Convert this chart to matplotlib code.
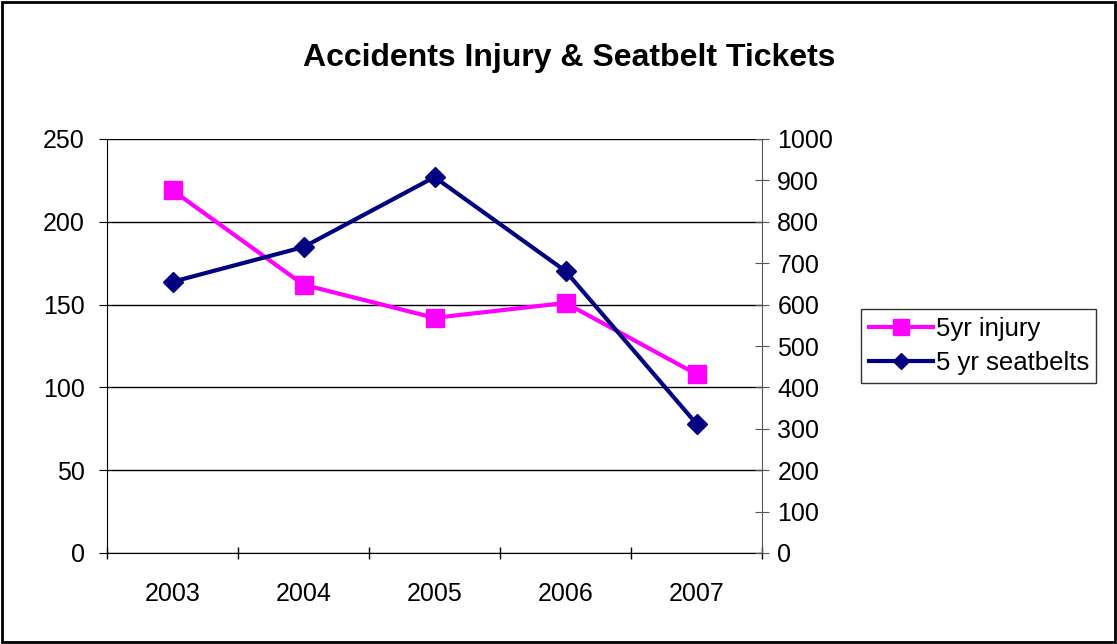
import matplotlib.pyplot as plt
from matplotlib.patches import Rectangle

plt.rcParams['font.family'] = ['Liberation Sans', 'DejaVu Sans']

years = ["2003", "2004", "2005", "2006", "2007"]
injury = [219, 162, 142, 151, 108]
seatbelts = [655, 739, 908, 681, 312]

fig = plt.figure(figsize=(11.17, 6.44), dpi=100)
ax = fig.add_axes([107 / 1117, 1 - 553 / 644, 655 / 1117, 414 / 644])
ax2 = ax.twinx()

x = list(range(len(years)))
l1, = ax.plot(x, injury, color='#FF00FF', lw=3, marker='s', ms=13, label='5yr injury', zorder=3)
l2, = ax2.plot(x, seatbelts, color='#000080', lw=3, marker='D', ms=10, label='5 yr seatbelts', zorder=3)

ax.set_xlim(-0.5, 4.5)
ax.set_ylim(0, 250)
ax2.set_ylim(0, 1000)
ax.set_yticks(range(0, 251, 50))
ax2.set_yticks(range(0, 1001, 100))
ax.set_xticks([i + 0.5 for i in range(-1, 5)])
ax.set_xticklabels([])
ax.set_xticks(x, minor=True)
ax.set_xticklabels(years, minor=True)
ax.tick_params(axis='x', which='minor', length=0, pad=21, labelsize=18)
ax.tick_params(axis='x', which='major', length=8, direction='inout', width=1)
ax.tick_params(axis='y', length=6, direction='out', labelsize=18, pad=10)
ax2.tick_params(axis='y', length=10, direction='inout', labelsize=18, pad=6, color='#555555')

ax.grid(axis='y', color='black', lw=1)
for a in (ax, ax2):
    a.spines['top'].set_visible(False)
ax.spines['right'].set_visible(False)
ax2.spines['left'].set_visible(False)
ax2.spines['bottom'].set_visible(False)
ax2.spines['right'].set_color('#555555')
ax.spines['bottom'].set_color('black')

fig.text(569 / 1117, 1 - 58 / 644, 'Accidents Injury & Seatbelt Tickets',
         ha='center', va='center', fontsize=23, fontweight='bold')

leg = fig.legend(handles=[l1, l2], loc='center left', bbox_to_anchor=(861 / 1117, 1 - 346 / 644),
                 fontsize=18.5, frameon=True, fancybox=False, edgecolor='black',
                 handlelength=2.5, borderpad=0.3, labelspacing=0.4, handletextpad=0.1,
                 borderaxespad=0, markerscale=0.85)
leg.get_frame().set_linewidth(1)

fig.patches.append(Rectangle((2 / 1117, 2 / 644), 1113 / 1117, 640 / 644, transform=fig.transFigure,
                             fill=False, edgecolor='black', lw=2))

fig.savefig('out.png', dpi=100)
